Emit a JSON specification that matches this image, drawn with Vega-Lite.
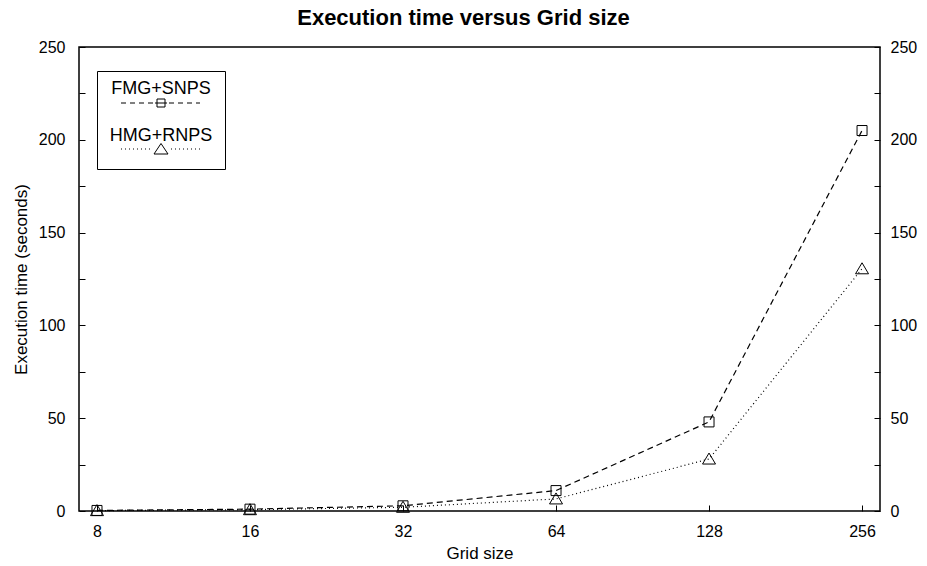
{
  "$schema": "https://vega.github.io/schema/vega-lite/v6.json",
  "width": 801,
  "height": 464,
  "autosize": "none",
  "padding": {"left": 79, "top": 47, "right": 47, "bottom": 55},
  "background": "white",
  "title": {
    "text": "Execution time versus Grid size",
    "font": "Liberation Sans",
    "fontSize": 22,
    "fontWeight": "bold",
    "color": "black",
    "anchor": "middle",
    "frame": "group",
    "dx": -16,
    "offset": 9
  },
  "config": {
    "view": {"stroke": "black", "strokeWidth": 1.5},
    "axis": {
      "labelFont": "Liberation Sans",
      "titleFont": "Liberation Sans",
      "labelColor": "black",
      "titleColor": "black",
      "tickColor": "black",
      "tickWidth": 1,
      "grid": false,
      "domain": false,
      "labelFlush": false,
      "labelOverlap": false,
      "titleFontWeight": "normal"
    },
    "legend": {"labelFont": "Liberation Sans"}
  },
  "data": {
    "values": [
      {"size": 8, "series": "FMG+SNPS", "time": 0.3},
      {"size": 16, "series": "FMG+SNPS", "time": 1.0},
      {"size": 32, "series": "FMG+SNPS", "time": 2.8},
      {"size": 64, "series": "FMG+SNPS", "time": 11},
      {"size": 128, "series": "FMG+SNPS", "time": 48},
      {"size": 256, "series": "FMG+SNPS", "time": 205},
      {"size": 8, "series": "HMG+RNPS", "time": 0.2},
      {"size": 16, "series": "HMG+RNPS", "time": 0.7},
      {"size": 32, "series": "HMG+RNPS", "time": 2.0},
      {"size": 64, "series": "HMG+RNPS", "time": 6.5},
      {"size": 128, "series": "HMG+RNPS", "time": 28},
      {"size": 256, "series": "HMG+RNPS", "time": 130.5}
    ]
  },
  "encoding": {
    "x": {
      "field": "size",
      "type": "quantitative",
      "scale": {"type": "log", "base": 2, "domain": [7.374, 277.7], "nice": false},
      "axis": {
        "values": [8, 16, 32, 64, 128, 256],
        "format": "d",
        "title": "Grid size",
        "tickSize": -6,
        "labelPadding": 18,
        "labelFontSize": 16,
        "titleFontSize": 17,
        "titlePadding": 6
      }
    }
  },
  "layer": [
    {
      "transform": [{"filter": "datum.series === 'FMG+SNPS'"}],
      "mark": {"type": "line", "color": "black", "strokeWidth": 1.2, "strokeDash": [6, 4]},
      "encoding": {
        "y": {
          "field": "time",
          "type": "quantitative",
          "scale": {"domain": [0, 250], "nice": false},
          "axis": {
            "orient": "left",
            "values": [0, 25, 50, 75, 100, 125, 150, 175, 200, 225, 250],
            "labelExpr": "datum.value % 50 === 0 ? datum.label : ''",
            "tickSize": -6,
            "labelPadding": 20,
            "labelFontSize": 16,
            "title": "Execution time (seconds)",
            "titleFontSize": 17,
            "titlePadding": 8
          }
        }
      }
    },
    {
      "transform": [{"filter": "datum.series === 'HMG+RNPS'"}],
      "mark": {"type": "line", "color": "black", "strokeWidth": 1.2, "strokeDash": [1, 3]},
      "encoding": {
        "y": {"field": "time", "type": "quantitative", "axis": null}
      }
    },
    {
      "mark": {"type": "point", "filled": false, "color": "black", "size": 100, "strokeWidth": 1, "opacity": 1},
      "encoding": {
        "y": {
          "field": "time",
          "type": "quantitative",
          "axis": {
            "orient": "right",
            "values": [0, 25, 50, 75, 100, 125, 150, 175, 200, 225, 250],
            "labelExpr": "datum.value % 50 === 0 ? datum.label : ''",
            "tickSize": -6,
            "labelPadding": 16,
            "labelFontSize": 16,
            "labelAlign": "left",
            "title": null
          }
        },
        "shape": {
          "field": "series",
          "type": "nominal",
          "scale": {
            "domain": ["FMG+SNPS", "HMG+RNPS"],
            "range": ["M-1,-1H1V1H-1Z", "M0,-1.2L1.3,1L-1.3,1Z"]
          },
          "legend": null
        }
      }
    },
    {
      "mark": {"type": "point", "filled": false, "color": "black", "size": 0, "strokeWidth": 1},
      "encoding": {
        "y": {"field": "time", "type": "quantitative", "axis": null},
        "shape": {
          "field": "series",
          "type": "nominal",
          "scale": {
            "domain": ["FMG+SNPS", "HMG+RNPS"],
            "range": [
              "M0.1,0.9H0.6M1,0.9H1.5M1.9,0.9H2.4M2.8,0.9H3.3M3.5,0.9H4.7M3.7,0.5H4.5V1.3H3.7ZM4.9,0.9H5.4M5.8,0.9H6.3M6.7,0.9H7.2M7.6,0.9H8",
              "M0.1,0.8h0.1M0.5,0.8h0.1M0.9,0.8h0.1M1.3,0.8h0.1M1.7,0.8h0.1M2.1,0.8h0.1M2.5,0.8h0.1M2.9,0.8h0.1M4.1,0.25L4.8,1.3L3.4,1.3ZM5.1,0.8h0.1M5.5,0.8h0.1M5.9,0.8h0.1M6.3,0.8h0.1M6.7,0.8h0.1M7.1,0.8h0.1M7.5,0.8h0.1M7.9,0.8h0.1"
            ]
          },
          "legend": {
            "orient": "none",
            "legendX": 18,
            "legendY": 24,
            "title": null,
            "symbolSize": 400,
            "symbolOffset": 0,
            "symbolStrokeColor": "black",
            "symbolFillColor": "transparent",
            "symbolStrokeWidth": 1,
            "symbolOpacity": 1,
            "labelFontSize": 18,
            "labelColor": "black",
            "labelAlign": "center",
            "labelBaseline": "alphabetic",
            "labelOffset": 30.5,
            "padding": 12.5,
            "strokeColor": "black",
            "rowPadding": 17
          }
        }
      }
    }
  ],
  "resolve": {
    "axis": {"y": "independent"},
    "scale": {"shape": "independent"},
    "legend": {"shape": "independent"}
  }
}
